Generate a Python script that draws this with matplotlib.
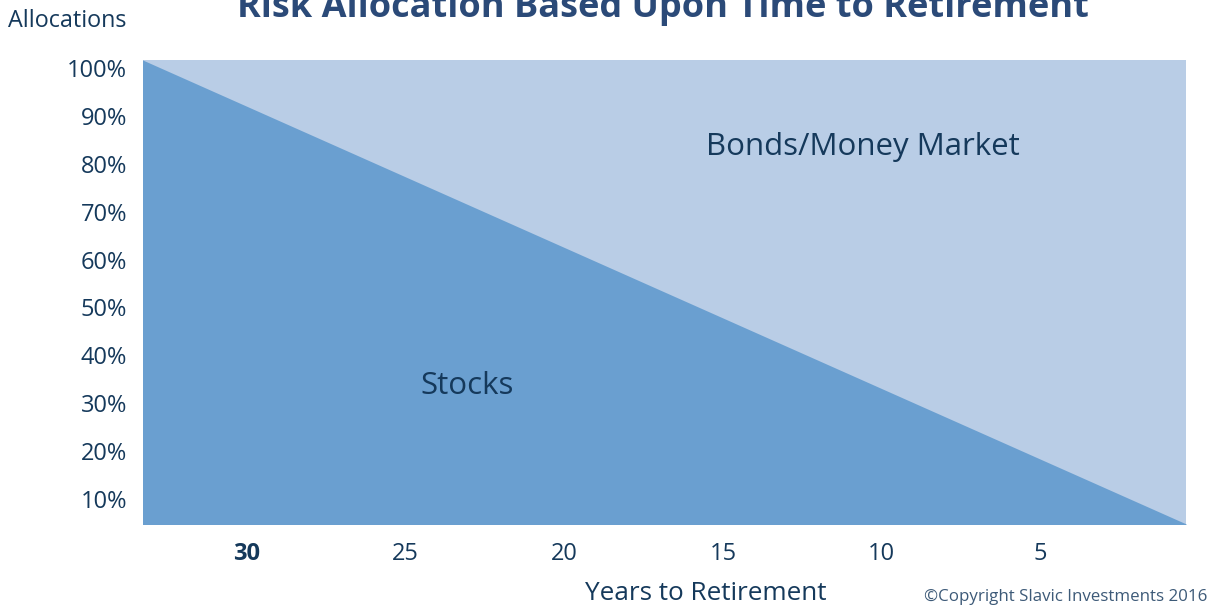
import matplotlib.pyplot as plt

# years to retirement at the plot edges, and the share held in stocks there
years = [33.3, 0.4]
stocks = [101.7, 4.8]
full = [101.7, 101.7]

x_ticks = [30, 25, 20, 15, 10, 5]
y_ticks = [10, 20, 30, 40, 50, 60, 70, 80, 90, 100]

navy = "#15395b"
title_color = "#2b4a78"
dark_fill = "#6a9fd0"
light_fill = "#b9cde6"

plt.rcParams["font.family"] = ["Open Sans", "DejaVu Sans"]

fig = plt.figure(figsize=(12.1, 6.07), dpi=100)
ax = fig.add_axes([143 / 1210, 1 - 524 / 607, 1044 / 1210, 464 / 607])

ax.fill_between(years, 0, full, color=light_fill, lw=0)
ax.fill_between(years, 0, stocks, color=dark_fill, lw=0)

ax.set_xlim(33.28, 0.37)
ax.set_ylim(4.78, 101.67)

ax.set_xticks(x_ticks)
ax.set_xticklabels([str(t) for t in x_ticks])
ax.set_yticks(y_ticks)
ax.set_yticklabels([f"{t}%" for t in y_ticks])
ax.tick_params(length=0, labelsize=17, labelcolor=navy)
ax.tick_params(axis="x", pad=13)
ax.tick_params(axis="y", pad=11.5)
ax.get_xticklabels()[0].set_fontweight("bold")
for s in ax.spines.values():
    s.set_visible(False)

# in-area labels
ax.text(10.58, 83.4, "Bonds/Money Market", ha="center", va="center",
        fontsize=22.5, color=navy)
ax.text(23.06, 33.6, "Stocks", ha="center", va="center", fontsize=22.5, color=navy)

fig.text(663 / 1210, 1 - 17 / 607, "Risk Allocation Based Upon Time to Retirement",
         ha="center", va="baseline", fontsize=26, fontweight="bold", color=title_color)
fig.text(67 / 1210, 1 - 21 / 607, "Allocations", ha="center", va="center",
         fontsize=16.8, color=navy)
fig.text(706 / 1210, 1 - 593 / 607, "Years to Retirement", ha="center", va="center",
         fontsize=18.8, color=navy)
fig.text(1207 / 1210, 1 - 597 / 607, "\u00a9Copyright Slavic Investments 2016",
         ha="right", va="center", fontsize=12.2, color="#3d5a78")

fig.savefig("out.png", dpi=100)
